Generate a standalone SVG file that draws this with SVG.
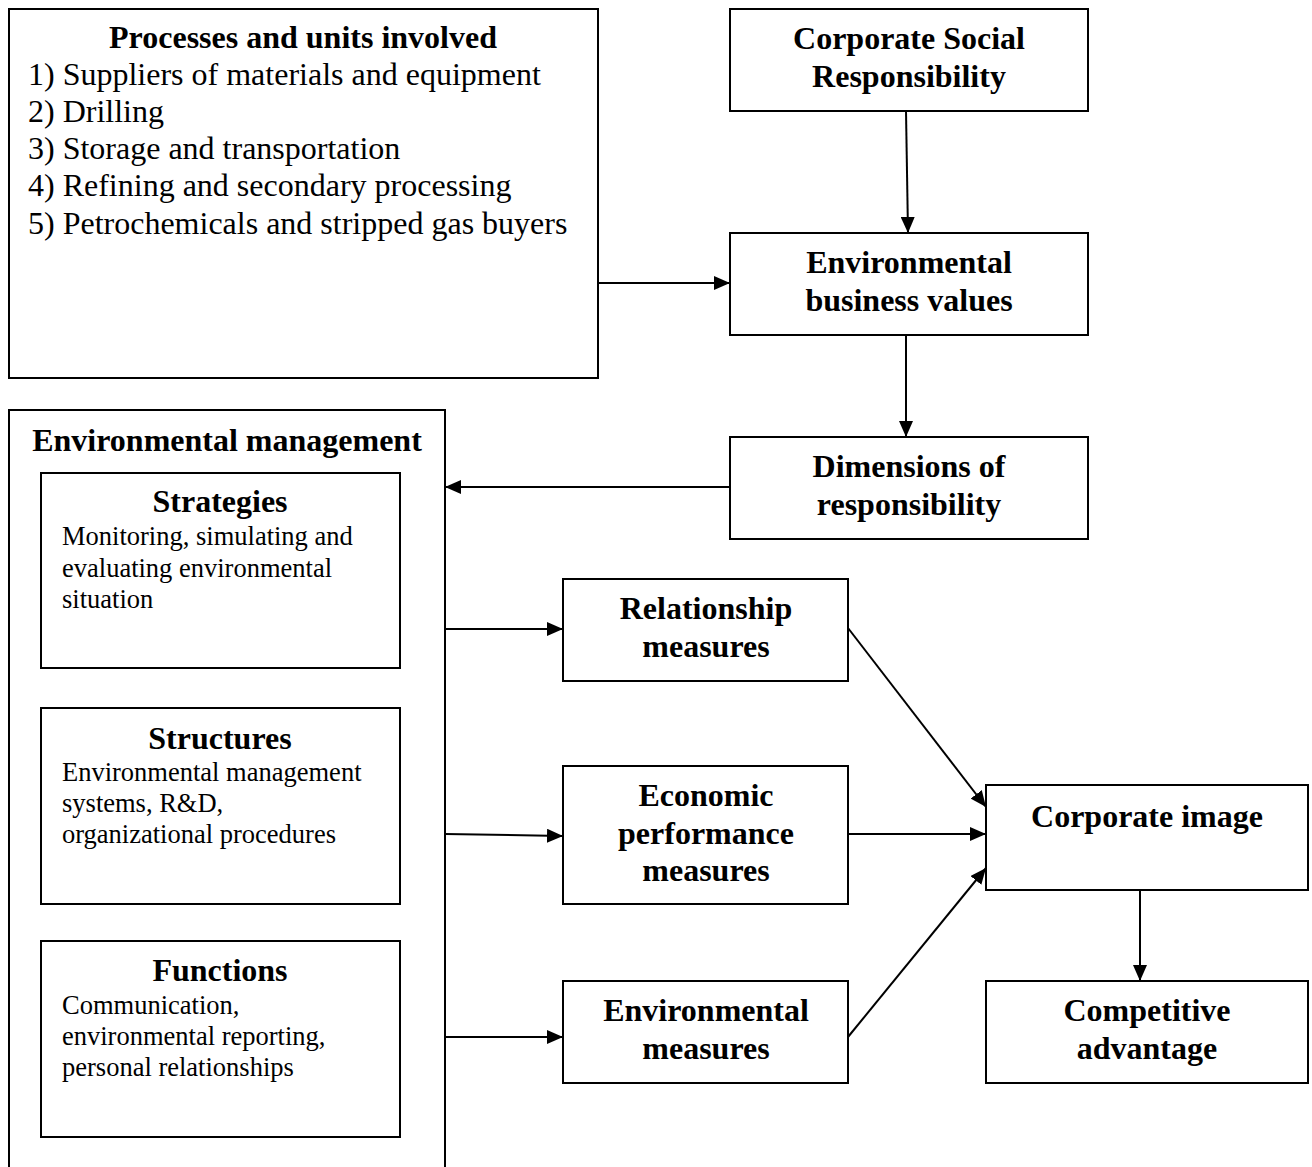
<svg xmlns="http://www.w3.org/2000/svg" width="1312" height="1167" viewBox="0 0 1312 1167">
<defs>
<marker id="ah2" markerWidth="16" markerHeight="14" refX="16" refY="7" orient="auto" markerUnits="userSpaceOnUse" viewBox="0 0 16 14">
<path d="M0,0 L16,7 L0,14 z" fill="#000"/>
</marker>
</defs>
<style>
rect{fill:#fff;stroke:#000;stroke-width:2}
.t{font-family:"Liberation Serif","Times New Roman",serif;font-weight:bold;font-size:32px;text-anchor:middle;fill:#000}
.l{font-family:"Liberation Serif","Times New Roman",serif;font-size:32px;fill:#000}
.s{font-family:"Liberation Serif","Times New Roman",serif;font-size:26.5px;fill:#000}
.c line{stroke:#000;stroke-width:2;marker-end:url(#ah2)}
</style>
<rect width="1312" height="1167" style="fill:#fff;stroke:none"/>
<g id="processes">
<rect x="9" y="9" width="589" height="369"/>
<text class="t" x="303" y="48">Processes and units involved</text>
<text class="l" x="28" y="85">1) Suppliers of materials and equipment</text>
<text class="l" x="28" y="122">2) Drilling</text>
<text class="l" x="28" y="159">3) Storage and transportation</text>
<text class="l" x="28" y="196">4) Refining and secondary processing</text>
<text class="l" x="28" y="234">5) Petrochemicals and stripped gas buyers</text>
</g>
<g id="csr">
<rect x="730" y="9" width="358" height="102"/>
<text class="t" x="909" y="49">Corporate Social</text>
<text class="t" x="909" y="87">Responsibility</text>
</g>
<g id="ebv">
<rect x="730" y="233" width="358" height="102"/>
<text class="t" x="909" y="273">Environmental</text>
<text class="t" x="909" y="311">business values</text>
</g>
<g id="dimensions">
<rect x="730" y="437" width="358" height="102"/>
<text class="t" x="909" y="477">Dimensions of</text>
<text class="t" x="909" y="515">responsibility</text>
</g>
<g id="envmgmt">
<path d="M9,1167 L9,410 L445,410 L445,1167" fill="none" stroke="#000" stroke-width="2"/>
<text class="t" x="227" y="451">Environmental management</text>
</g>
<g id="strategies">
<rect x="41" y="473" width="359" height="195"/>
<text class="t" x="220" y="512">Strategies</text>
<text class="s" x="62" y="545">Monitoring, simulating and</text>
<text class="s" x="62" y="577">evaluating environmental</text>
<text class="s" x="62" y="608">situation</text>
</g>
<g id="structures">
<rect x="41" y="708" width="359" height="196"/>
<text class="t" x="220" y="749">Structures</text>
<text class="s" x="62" y="781">Environmental management</text>
<text class="s" x="62" y="812">systems, R&amp;D,</text>
<text class="s" x="62" y="843">organizational procedures</text>
</g>
<g id="functions">
<rect x="41" y="941" width="359" height="196"/>
<text class="t" x="220" y="981">Functions</text>
<text class="s" x="62" y="1014">Communication,</text>
<text class="s" x="62" y="1045">environmental reporting,</text>
<text class="s" x="62" y="1076">personal relationships</text>
</g>
<g id="relationship">
<rect x="563" y="579" width="285" height="102"/>
<text class="t" x="706" y="619">Relationship</text>
<text class="t" x="706" y="657">measures</text>
</g>
<g id="economic">
<rect x="563" y="766" width="285" height="138"/>
<text class="t" x="706" y="806">Economic</text>
<text class="t" x="706" y="844">performance</text>
<text class="t" x="706" y="881">measures</text>
</g>
<g id="envmeasures">
<rect x="563" y="981" width="285" height="102"/>
<text class="t" x="706" y="1021">Environmental</text>
<text class="t" x="706" y="1059">measures</text>
</g>
<g id="image">
<rect x="986" y="785" width="322" height="105"/>
<text class="t" x="1147" y="827">Corporate image</text>
</g>
<g id="competitive">
<rect x="986" y="981" width="322" height="102"/>
<text class="t" x="1147" y="1021">Competitive</text>
<text class="t" x="1147" y="1059">advantage</text>
</g>
<g class="c" id="connectors">
<line x1="598" y1="283" x2="730" y2="283"/>
<line x1="906" y1="111" x2="908" y2="233"/>
<line x1="906" y1="335" x2="906" y2="437"/>
<line x1="730" y1="487" x2="445" y2="487"/>
<line x1="445" y1="629" x2="563" y2="629"/>
<line x1="445" y1="834" x2="563" y2="836"/>
<line x1="445" y1="1037" x2="563" y2="1037"/>
<line x1="848" y1="628" x2="986" y2="807"/>
<line x1="848" y1="834" x2="986" y2="834"/>
<line x1="848" y1="1037" x2="986" y2="868"/>
<line x1="1140" y1="890" x2="1140" y2="981"/>
</g>
</svg>
